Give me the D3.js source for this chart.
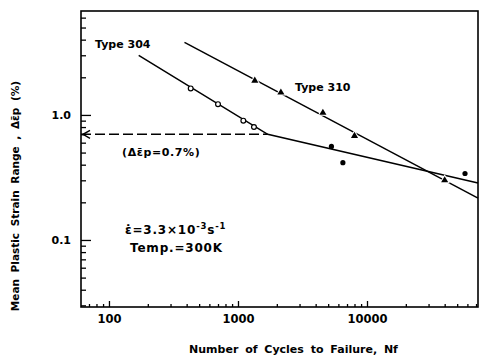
<!DOCTYPE html>
<html>
<head>
<meta charset="utf-8">
<script src="https://cdn.jsdelivr.net/npm/d3@7"></script>
<style>
  body { margin: 0; background: #fff; }
  text { font-family: "DejaVu Sans", sans-serif; font-weight: bold; fill: #000; }
</style>
</head>
<body>
<div id="chart"></div>
<script>
// Type 304, open circles
const cycles304 = [430, 700, 1100, 1330];
const strain304 = [1.63, 1.22, 0.90, 0.80];
// Type 304, solid circles
const cycles304s = [5300, 6500, 57500];
const strain304s = [0.56, 0.415, 0.34];
// Type 310, triangles
const cycles310 = [1350, 2150, 4550, 8000, 40000];
const strain310 = [1.88, 1.51, 1.04, 0.68, 0.30];
// fitted lines
const fit304Cycles = [170, 1700, 72500];
const fit304Strain = [3.0, 0.70, 0.286];
const fit310Cycles = [385, 72500];
const fit310Strain = [3.8, 0.216];
// reference level
const refStrain = 0.7;
const refCycles = 1700;

const xTickLabels = [100, 1000, 10000];
const yTickLabels = [0.1, 1.0];

const margin = { top: 11, right: 8, bottom: 51, left: 81 },
  width = 486 - margin.left - margin.right,
  height = 358 - margin.top - margin.bottom;

const svg = d3.select('#chart')
  .append('svg')
  .attr('width', width + margin.left + margin.right)
  .attr('height', height + margin.top + margin.bottom)
  .append('g')
  .attr('transform', 'translate(' + margin.left + ',' + margin.top + ')');

const x = d3.scaleLog().domain([60.7, 72500]).range([0, width]);
const y = d3.scaleLog().domain([0.0291, 6.78]).range([height, 0]);

const zip = (a, b) => a.map((v, i) => [v, b[i]]);
const line = d3.line().x(d => x(d[0])).y(d => y(d[1]));

// frame
svg.append('rect')
  .attr('width', width).attr('height', height)
  .attr('fill', 'none').attr('stroke', '#000').attr('stroke-width', 1.6);

// x axis, ticks pointing inward
const xAxis = svg.append('g')
  .attr('transform', 'translate(0,' + height + ')')
  .call(d3.axisBottom(x).tickValues(x.ticks()).tickSize(-3).tickPadding(8)
    .tickFormat(d => xTickLabels.includes(d) ? d : ''));
xAxis.select('.domain').remove();
xAxis.selectAll('.tick').filter(d => xTickLabels.includes(d)).select('line').attr('y2', -6);
xAxis.selectAll('line').attr('stroke-width', 1.3);
xAxis.selectAll('text').style('font-size', '11.5px').style('font-family', '"DejaVu Sans", sans-serif');

const yAxis = svg.append('g')
  .call(d3.axisLeft(y).tickValues(y.ticks()).tickSize(-5).tickPadding(10)
    .tickFormat(d => yTickLabels.includes(d) ? d3.format('.1f')(d) : ''));
yAxis.select('.domain').remove();
yAxis.selectAll('.tick').filter(d => yTickLabels.includes(d)).select('line').attr('x2', 10);
yAxis.selectAll('line').attr('stroke-width', 1.3);
yAxis.selectAll('text').style('font-size', '11px').style('font-family', '"DejaVu Sans", sans-serif');

// reference dashed line with arrow
svg.append('path')
  .datum([[x.domain()[0], refStrain], [refCycles, refStrain]])
  .attr('d', line)
  .attr('fill', 'none').attr('stroke', '#000').attr('stroke-width', 1.4)
  .attr('stroke-dasharray', '10,4');
svg.append('path')
  .attr('d', 'M' + (x(x.domain()[0]) + 9) + ',' + (y(refStrain) - 4) + 'L' + (x(x.domain()[0]) + 2) + ',' + y(refStrain) + 'L' + (x(x.domain()[0]) + 9) + ',' + (y(refStrain) + 4))
  .attr('fill', 'none').attr('stroke', '#000').attr('stroke-width', 1.4);

// fitted lines
svg.append('path')
  .datum(zip(fit304Cycles, fit304Strain))
  .attr('d', line)
  .attr('fill', 'none').attr('stroke', '#000').attr('stroke-width', 1.5);
svg.append('path')
  .datum(zip(fit310Cycles, fit310Strain))
  .attr('d', line)
  .attr('fill', 'none').attr('stroke', '#000').attr('stroke-width', 1.5);

// markers with white halo to break the line
svg.selectAll('.open')
  .data(zip(cycles304, strain304))
  .enter().append('circle')
  .attr('cx', d => x(d[0])).attr('cy', d => y(d[1])).attr('r', 2.4)
  .attr('fill', '#fff').attr('stroke', '#000').attr('stroke-width', 1.2);

svg.selectAll('.solid')
  .data(zip(cycles304s, strain304s))
  .enter().append('circle')
  .attr('cx', d => x(d[0])).attr('cy', d => y(d[1])).attr('r', 2.6)
  .attr('fill', '#000');

svg.selectAll('.tri')
  .data(zip(cycles310, strain310))
  .enter().append('path')
  .attr('transform', d => 'translate(' + x(d[0]) + ',' + y(d[1]) + ')')
  .attr('d', d3.symbol().type(d3.symbolTriangle).size(22))
  .attr('fill', '#000').attr('stroke', '#fff').attr('stroke-width', 2)
  .attr('paint-order', 'stroke');

// annotations
const note = (tx, ty, str, size) => svg.append('text')
  .attr('x', tx).attr('y', ty).style('font-size', size + 'px').text(str);

note(14, 37, 'Type 304', 11);
note(214, 80, 'Type 310', 11);
note(41, 145, '(Δε̄p=0.7%)', 11).style('letter-spacing', '0.6px');

const rate = svg.append('text').attr('x', 44).attr('y', 223)
  .style('font-size', '12px').style('letter-spacing', '0.8px');
rate.append('tspan').text('ε̇=3.3×10');
rate.append('tspan').attr('dy', -5).style('font-size', '8.5px').text('-3');
rate.append('tspan').attr('dy', 5).text('s');
rate.append('tspan').attr('dy', -5).style('font-size', '8.5px').text('-1');
note(49, 241, 'Temp.=300K', 12).style('letter-spacing', '0.8px');

// axis titles
svg.append('text')
  .attr('x', width / 2 + 14).attr('y', height + 46)
  .attr('text-anchor', 'middle').style('font-size', '11px').style('word-spacing', '3px')
  .text('Number of Cycles to Failure, Nf');

svg.append('text')
  .attr('transform', 'translate(' + (-62) + ',' + 185 + ') rotate(-90)')
  .attr('text-anchor', 'middle').style('font-size', '10.5px').style('word-spacing', '3px')
  .text('Mean Plastic Strain Range , Δε̄p (%)');
</script>
</body>
</html>
